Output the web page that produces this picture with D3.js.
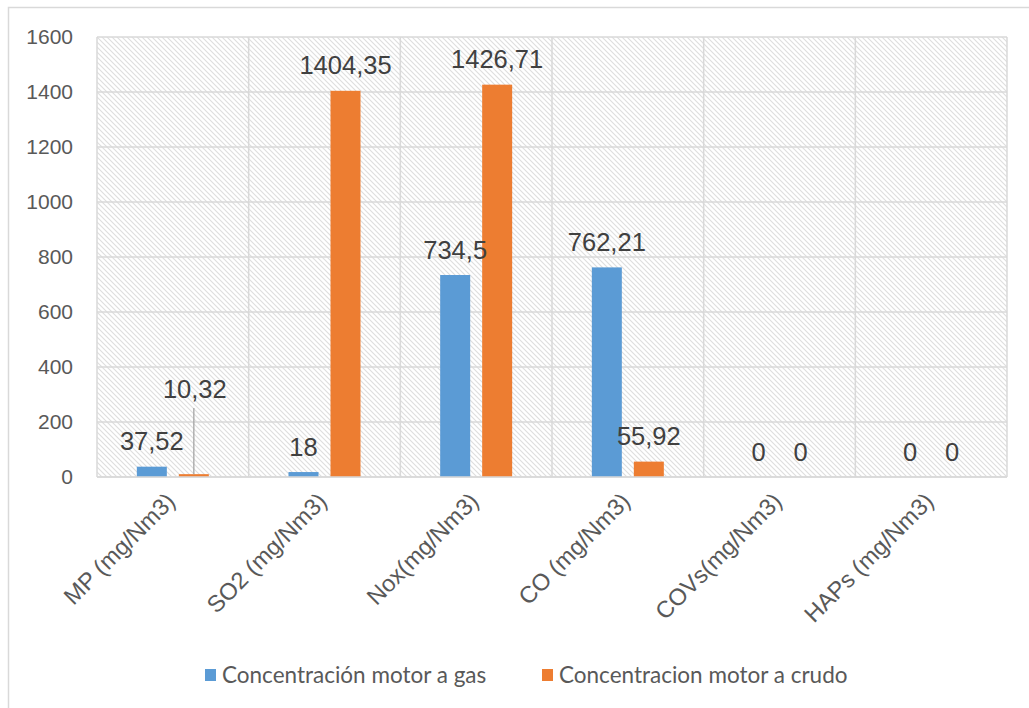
<!DOCTYPE html>
<html>
<head>
<meta charset="utf-8">
<script src="https://cdn.jsdelivr.net/npm/d3@7"></script>
<style>
  html, body { margin: 0; padding: 0; background: #fff; }
  svg { display: block; }
</style>
</head>
<body>
<svg id="chart" width="1029" height="708"></svg>
<script>
// Emission concentrations per pollutant, for each engine type
const categories = ["MP (mg/Nm3)", "SO2 (mg/Nm3)", "Nox(mg/Nm3)", "CO (mg/Nm3)", "COVs(mg/Nm3)", "HAPs (mg/Nm3)"];
const gasValues = [37.52, 18, 734.5, 762.21, 0, 0];
const crudeValues = [10.32, 1404.35, 1426.71, 55.92, 0, 0];
const seriesNames = ["Concentración motor a gas", "Concentracion motor a crudo"];
const yTicks = [0, 200, 400, 600, 800, 1000, 1200, 1400, 1600];

const colors = ["#5b9bd5", "#ed7d31"];
const series = [gasValues, crudeValues];

const svg = d3.select("#chart");
const margin = { left: 97, right: 1007, top: 37, bottom: 477 };

// Outer chart frame
svg.append("rect")
  .attr("x", 8.5).attr("y", 7.5)
  .attr("width", 1040).attr("height", 720)
  .attr("fill", "#fff").attr("stroke", "#d9d9d9").attr("stroke-width", 1.5);

// Diagonal hatch used as the plot background
const defs = svg.append("defs");
const pat = defs.append("pattern")
  .attr("id", "hatch").attr("patternUnits", "userSpaceOnUse")
  .attr("width", 5).attr("height", 5);
pat.append("rect").attr("width", 5).attr("height", 5).attr("fill", "#fff");
pat.append("path")
  .attr("d", "M-1,-1 L6,6 M-1,4 L1,6 M4,-1 L6,1")
  .attr("stroke", "#dedede").attr("stroke-width", 1.1);

const x = d3.scaleBand().domain(categories).range([margin.left, margin.right]);
const y = d3.scaleLinear().domain([0, 1600]).range([margin.bottom, margin.top]);

svg.append("rect")
  .attr("x", margin.left).attr("y", margin.top)
  .attr("width", margin.right - margin.left).attr("height", margin.bottom - margin.top)
  .attr("fill", "url(#hatch)");

// Horizontal gridlines
svg.append("g").selectAll("line").data(yTicks).join("line")
  .attr("x1", margin.left).attr("x2", margin.right)
  .attr("y1", d => y(d)).attr("y2", d => y(d))
  .attr("stroke", "#d9d9d9").attr("stroke-width", 1.5);

// Vertical gridlines at category boundaries
const bounds = categories.map(c => x(c)).concat([margin.right]);
svg.append("g").selectAll("line").data(bounds).join("line")
  .attr("x1", d => d).attr("x2", d => d)
  .attr("y1", margin.top).attr("y2", margin.bottom)
  .attr("stroke", "#d9d9d9").attr("stroke-width", 1.5);

// Y axis labels
const yAxis = d3.axisLeft(y).tickValues(yTicks).tickSize(0).tickPadding(24).tickFormat(d3.format("d"));
const gy = svg.append("g").attr("transform", `translate(${margin.left},0)`).call(yAxis);
gy.select(".domain").remove();
gy.selectAll("text")
  .attr("font-family", "'Liberation Sans', Arial, sans-serif")
  .attr("font-size", 21).attr("fill", "#595959");

// X axis labels, rotated
const xAxis = d3.axisBottom(x).tickSize(0).tickPadding(0);
const gx = svg.append("g").attr("transform", `translate(0,${margin.bottom})`).call(xAxis);
gx.select(".domain").remove();
gx.selectAll("text")
  .attr("font-family", "'Liberation Sans', Arial, sans-serif")
  .attr("font-size", 23.5).attr("fill", "#595959")
  .attr("text-anchor", "end")
  .attr("transform", "translate(-8,14) rotate(-45)")
  .attr("dy", "0.71em");

// Bars
const barW = 30, offset = 21;
const bars = [];
series.forEach((vals, si) => {
  vals.forEach((v, i) => {
    bars.push({ cat: categories[i], v, si });
  });
});
const bx = d => x(d.cat) + x.bandwidth() / 2 + (d.si === 0 ? -offset : offset);

svg.append("g").selectAll("rect").data(bars).join("rect")
  .attr("x", d => bx(d) - barW / 2)
  .attr("width", barW)
  .attr("y", d => y(d.v))
  .attr("height", d => y(0) - y(d.v))
  .attr("fill", d => colors[d.si]);

// Bottom axis line
svg.append("line")
  .attr("x1", margin.left).attr("x2", margin.right)
  .attr("y1", y(0)).attr("y2", y(0))
  .attr("stroke", "#d9d9d9").attr("stroke-width", 1.5);

// Value labels (comma decimal separator)
const fmt = v => String(v).replace(".", ",");
const lbl = svg.append("g")
  .attr("font-family", "'Liberation Sans', Arial, sans-serif")
  .attr("font-size", 25.5).attr("fill", "#404040").attr("text-anchor", "middle");

bars.forEach(d => {
  // The small crude-engine MP value gets a raised label with a leader line
  const raised = d.si === 1 && d.cat === categories[0];
  const cx = bx(d);
  if (raised) {
    svg.append("line")
      .attr("x1", cx).attr("x2", cx)
      .attr("y1", y(0) - 69).attr("y2", y(d.v))
      .attr("stroke", "#a6a6a6").attr("stroke-width", 1.3);
    lbl.append("text").attr("x", cx + 1).attr("y", y(0) - 79).text(fmt(d.v));
  } else {
    lbl.append("text").attr("x", cx).attr("y", y(d.v) - 16.5).text(fmt(d.v));
  }
});

// Legend
const legend = svg.append("g")
  .attr("font-family", "Lato, 'Open Sans', sans-serif")
  .attr("font-size", 22.5).attr("fill", "#595959");
const legendX = [205, 542];
seriesNames.forEach((name, i) => {
  legend.append("rect")
    .attr("x", legendX[i]).attr("y", 669)
    .attr("width", 11).attr("height", 12)
    .attr("fill", colors[i]);
  legend.append("text")
    .attr("x", legendX[i] + 17).attr("y", 683)
    .text(name);
});
</script>
</body>
</html>
